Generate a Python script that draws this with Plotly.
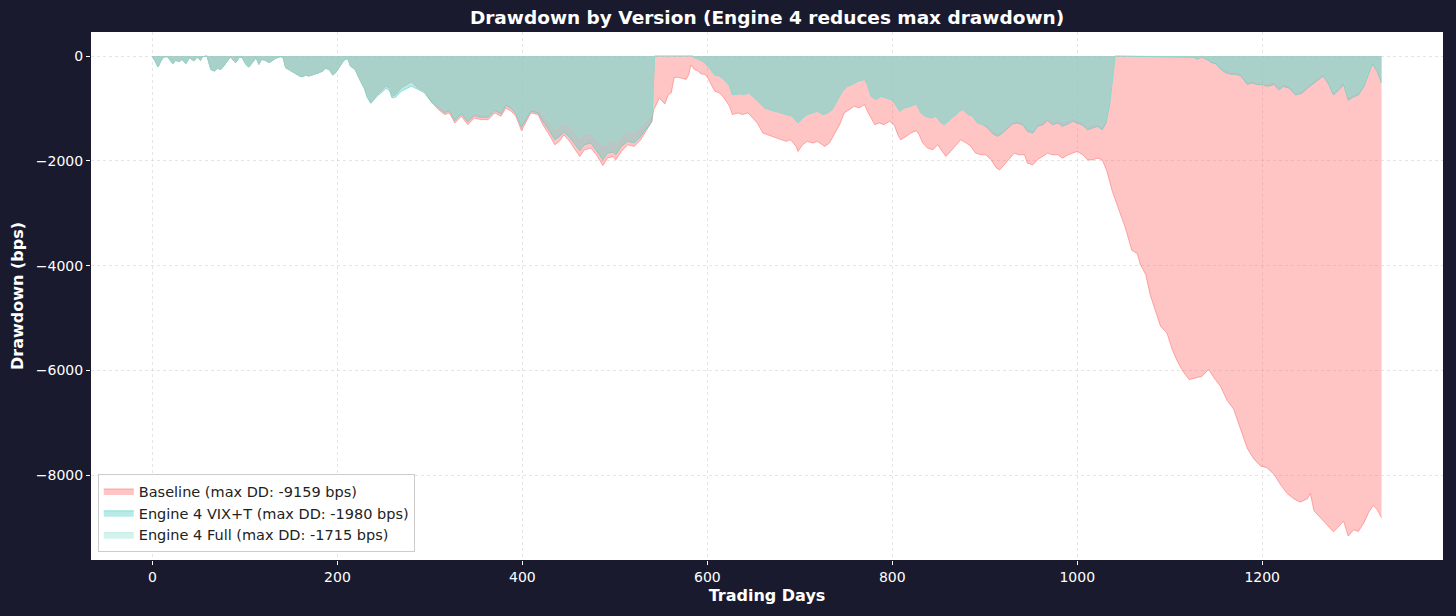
import plotly.graph_objects as go

# ---------------- data ----------------
base_days = [0, 4, 6, 9, 12, 16, 19, 22, 25, 29, 32, 36, 40, 45, 48, 52, 54, 59, 63, 67, 70, 74, 77, 81, 84, 88, 90, 94, 97,
             101, 104, 108, 112, 115, 118, 122, 126, 130, 133, 138, 141, 144, 150, 155, 159, 162, 166, 169, 173, 177, 180,
             184, 187, 191, 195, 198, 204, 207, 211, 214, 219, 222, 225, 229, 232, 236, 240, 243, 249, 252, 256, 259, 263,
             269, 280, 287, 294, 301, 309, 316, 321, 327, 334, 341, 348, 355, 363, 370, 377, 382, 388, 393, 399, 404, 409,
             417, 422, 429, 435, 440, 445, 451, 456, 462, 467, 474, 480, 487, 492, 498, 501, 507, 514, 521, 528, 532, 537,
             540, 542, 544, 548, 552, 554, 558, 561, 564, 568, 573, 577, 580, 582, 586, 590, 593, 597, 600, 604, 608, 613,
             618, 624, 627, 633, 638, 644, 649, 654, 660, 665, 672, 680, 685, 690, 696, 698, 703, 708, 714, 719, 727, 732,
             737, 743, 748, 754, 759, 764, 770, 773, 777, 781, 786, 791, 797, 802, 806, 809, 815, 820, 826, 829, 833, 838,
             844, 849, 854, 858, 863, 869, 874, 880, 885, 890, 896, 901, 907, 912, 916, 921, 927, 932, 937, 943, 946, 952,
             957, 963, 968, 973, 979, 984, 990, 995, 1000, 1006, 1011, 1017, 1022, 1027, 1032, 1038, 1045, 1052, 1059,
             1065, 1068, 1074, 1079, 1085, 1090, 1097, 1103, 1108, 1114, 1121, 1128, 1135, 1142, 1148, 1155, 1162, 1169,
             1177, 1184, 1191, 1198, 1205, 1213, 1220, 1227, 1234, 1241, 1249, 1252, 1256, 1263, 1270, 1277, 1283, 1288,
             1293, 1299, 1304, 1310, 1315, 1320, 1324, 1329]
base_dd = [0, -160, -210, -96, -20, -10, -80, -147, -83, -109, -64, -147, -32, -96, -20, -83, -13, 0, -256, -288, -236, -256,
           -192, -83, -20, -96, -128, -20, -32, -160, -211, -128, -32, -160, -64, -83, -128, -83, -45, -13, -20, -224, -288,
           -339, -383, -396, -364, -383, -364, -339, -320, -288, -236, -256, -364, -320, -173, -83, -45, -192, -256, -383,
           -479, -607, -767, -895, -799, -735, -639, -575, -607, -767, -735, -607, -492, -607, -671, -863, -1022, -1118,
           -1086, -1278, -1150, -1310, -1182, -1214, -1214, -1086, -1150, -990, -1054, -1150, -1425, -1246, -1086, -1118,
           -1310, -1502, -1693, -1629, -1502, -1629, -1757, -1917, -1789, -1757, -1885, -2090, -1949, -1917, -1981, -1821,
           -1693, -1725, -1598, -1489, -1342, -1246, -1022, -959, -799, -863, -914, -735, -703, -415, -403, -428, -447,
           -351, -173, -256, -288, -339, -351, -403, -543, -671, -703, -799, -959, -1118, -1086, -1118, -1086, -1182,
           -1278, -1470, -1502, -1553, -1598, -1629, -1598, -1725, -1821, -1693, -1629, -1661, -1629, -1725, -1661, -1502,
           -1310, -1086, -1022, -959, -990, -927, -1054, -1182, -1310, -1278, -1310, -1246, -1310, -1502, -1598, -1534,
           -1470, -1425, -1502, -1661, -1757, -1789, -1693, -1821, -1917, -1821, -1693, -1598, -1661, -1725, -1853, -1885,
           -1885, -1981, -2128, -2173, -2077, -1949, -1853, -1885, -1885, -2045, -2077, -1981, -1917, -1853, -1885, -1885,
           -1949, -1885, -1853, -1821, -1885, -1981, -1981, -1949, -1981, -2192, -2587, -2917, -3279, -3707, -3773, -3970,
           -4168, -4563, -4892, -5155, -5287, -5616, -5814, -6011, -6176, -6143, -6110, -5978, -6143, -6308, -6571, -6735,
           -7130, -7493, -7690, -7822, -7855, -7987, -8184, -8348, -8447, -8513, -8447, -8348, -8677, -8809, -8941, -9080,
           -8974, -8875, -9159, -9040, -9073, -8908, -8711, -8579, -8645, -8809]

e4_days = [0, 4, 6, 9, 12, 16, 19, 22, 25, 29, 32, 36, 40, 45, 48, 52, 54, 59, 63, 67, 70, 74, 77, 81, 84, 88, 90, 94, 97,
           101, 104, 108, 112, 115, 118, 122, 126, 130, 133, 138, 141, 144, 150, 155, 159, 162, 166, 169, 173, 177, 180,
           184, 187, 191, 195, 198, 204, 207, 211, 214, 219, 222, 225, 229, 232, 236, 240, 243, 249, 252, 256, 259, 263,
           269, 280, 287, 294, 301, 309, 316, 321, 327, 334, 341, 348, 355, 363, 370, 377, 382, 388, 393, 399, 404, 409,
           417, 422, 429, 435, 440, 445, 451, 456, 462, 467, 474, 480, 487, 492, 498, 501, 507, 514, 521, 528, 532, 537,
           540, 543, 584, 586, 591, 597, 602, 608, 613, 618, 624, 627, 635, 640, 645, 651, 656, 662, 667, 674, 681, 687,
           692, 698, 703, 708, 714, 719, 725, 730, 735, 741, 746, 752, 757, 763, 770, 773, 777, 782, 788, 793, 799, 804,
           808, 813, 820, 826, 831, 836, 842, 847, 853, 856, 862, 867, 873, 876, 882, 887, 892, 898, 903, 909, 914, 919,
           925, 930, 935, 941, 946, 952, 957, 963, 968, 973, 979, 984, 990, 995, 1000, 1006, 1011, 1017, 1022, 1027, 1031,
           1035, 1038, 1041, 1126, 1130, 1134, 1138, 1142, 1144, 1150, 1155, 1160, 1166, 1171, 1177, 1184, 1189, 1195,
           1200, 1205, 1213, 1218, 1223, 1229, 1236, 1243, 1249, 1256, 1261, 1266, 1272, 1277, 1283, 1288, 1293, 1299,
           1304, 1310, 1315, 1319, 1324, 1329]
vix_dd = [0, -160, -210, -96, -20, -10, -80, -147, -83, -109, -64, -147, -32, -96, -20, -83, -13, 0, -256, -288, -236, -256,
          -192, -83, -20, -96, -128, -20, -32, -160, -211, -128, -32, -160, -64, -83, -128, -83, -45, -13, -20, -224, -288,
          -339, -383, -396, -364, -383, -364, -339, -320, -288, -236, -256, -364, -320, -173, -83, -45, -192, -256, -383,
          -485, -620, -785, -905, -830, -767, -680, -620, -650, -800, -786, -671, -575, -639, -703, -863, -990, -1086,
          -1042, -1233, -1105, -1259, -1137, -1169, -1169, -1042, -1105, -939, -1003, -1105, -1361, -1195, -1054, -1086,
          -1246, -1425, -1598, -1534, -1451, -1553, -1661, -1808, -1693, -1661, -1808, -1980, -1853, -1834, -1885, -1725,
          -1629, -1661, -1534, -1430, -1330, -1250, 0, 0, -32, -64, -128, -224, -364, -383, -447, -575, -735, -722, -735,
          -703, -799, -895, -990, -1022, -1054, -1086, -1118, -1150, -1278, -1182, -1118, -1086, -1054, -1118, -1086,
          -1022, -831, -671, -575, -543, -479, -447, -543, -767, -831, -767, -799, -831, -940, -1054, -990, -959, -914,
          -1086, -1150, -1182, -1150, -1278, -1310, -1214, -1150, -1054, -1022, -1118, -1150, -1278, -1310, -1374, -1489,
          -1534, -1470, -1374, -1297, -1278, -1310, -1438, -1470, -1342, -1310, -1233, -1310, -1278, -1342, -1297, -1246,
          -1278, -1323, -1406, -1374, -1342, -1406, -1278, -927, -415, 0, -25, -60, -20, -45, -80, -118, -151, -250, -316,
          -349, -349, -382, -546, -514, -546, -546, -580, -546, -645, -580, -613, -744, -711, -613, -514, -448, -382, -547,
          -744, -645, -547, -843, -777, -744, -580, -349, -151, -283, -514]
full_dd = [0, -160, -210, -96, -20, -10, -80, -147, -83, -109, -64, -147, -32, -96, -20, -83, -13, 0, -256, -288, -236, -256,
           -192, -83, -20, -96, -128, -20, -32, -160, -211, -128, -32, -160, -64, -83, -128, -83, -45, -13, -20, -224, -288,
           -339, -383, -396, -364, -383, -364, -339, -320, -288, -236, -256, -364, -320, -173, -83, -45, -192, -256, -383,
           -479, -607, -767, -895, -800, -735, -640, -575, -607, -767, -722, -594, -479, -594, -658, -831, -959, -1022,
           -990, -1182, -1054, -1195, -1086, -1105, -1118, -990, -1054, -895, -959, -1054, -1310, -1150, -1003, -1022,
           -1100, -1245, -1390, -1340, -1270, -1340, -1450, -1565, -1480, -1480, -1570, -1715, -1625, -1600, -1655, -1525,
           -1420, -1450, -1345, -1260, -1190, -1150, 0, 0, -32, -64, -128, -224, -364, -383, -447, -575, -735, -722, -735,
           -703, -799, -895, -990, -1022, -1054, -1086, -1118, -1150, -1278, -1182, -1118, -1086, -1054, -1118, -1086,
           -1022, -831, -671, -575, -543, -479, -447, -543, -767, -831, -767, -799, -831, -940, -1054, -990, -959, -914,
           -1086, -1150, -1182, -1150, -1278, -1310, -1214, -1150, -1054, -1022, -1118, -1150, -1278, -1310, -1297, -1425,
           -1470, -1406, -1310, -1246, -1233, -1259, -1374, -1406, -1278, -1233, -1169, -1233, -1195, -1259, -1214, -1182,
           -1214, -1246, -1323, -1297, -1278, -1342, -1220, -880, -400, 0, -15, -40, -10, -30, -55, -80, -100, -190, -250,
           -285, -285, -320, -480, -450, -480, -480, -515, -480, -580, -515, -550, -680, -645, -550, -450, -385, -320, -480,
           -680, -580, -480, -780, -712, -680, -515, -290, -110, -220, -450]

series_names = ["Baseline (max DD: -9159 bps)",
                "Engine 4 VIX+T (max DD: -1980 bps)",
                "Engine 4 Full (max DD: -1715 bps)"]
x_ticks = [0, 200, 400, 600, 800, 1000, 1200]
y_ticks = [-8000, -6000, -4000, -2000, 0]

# ---------------- figure ----------------
BG = "#1a1a2e"
FONT = "DejaVu Sans"

fig = go.Figure()
fig.add_trace(go.Scatter(x=base_days, y=base_dd, name=series_names[0], mode="lines",
                         fill="tozeroy", fillcolor="rgba(255,107,107,0.4)",
                         line=dict(color="rgba(255,107,107,0.55)", width=1)))
fig.add_trace(go.Scatter(x=e4_days, y=vix_dd, name=series_names[1], mode="lines",
                         fill="tozeroy", fillcolor="rgba(78,205,196,0.4)",
                         line=dict(color="rgba(78,205,196,0.55)", width=1)))
fig.add_trace(go.Scatter(x=e4_days, y=full_dd, name=series_names[2], mode="lines",
                         fill="tozeroy", fillcolor="rgba(149,225,211,0.4)",
                         line=dict(color="rgba(149,225,211,0.55)", width=1)))

fig.update_layout(
    width=1456, height=616,
    paper_bgcolor=BG, plot_bgcolor="white",
    margin=dict(l=91, r=13, t=32, b=56),
    font=dict(family=FONT, color="white", size=14),
    title=dict(text="<b>Drawdown by Version (Engine 4 reduces max drawdown)</b>",
               x=0.5, xanchor="center", xref="paper", y=1 - 18 / 616, yanchor="middle",
               font=dict(family=FONT, size=18.5, color="white")),
    showlegend=True,
    legend=dict(x=0.005, y=0.015, xanchor="left", yanchor="bottom",
                bgcolor="rgba(255,255,255,0.9)", bordercolor="#cccccc", borderwidth=1,
                font=dict(family=FONT, size=14.5, color="#222222"),
                tracegroupgap=0),
)
fig.update_xaxes(range=[-66.5, 1395.5], tickvals=x_ticks, showgrid=True,
                 gridcolor="rgba(190,190,190,0.4)", griddash="dot", gridwidth=1,
                 zeroline=False, ticks="outside", ticklen=4, tickcolor="white",
                 tickfont=dict(color="white", size=14),
                 title=dict(text="<b>Trading Days</b>", font=dict(size=16, color="white"), standoff=6),
                 showline=False)
fig.update_yaxes(range=[-9617, 458], tickvals=y_ticks, showgrid=True,
                 gridcolor="rgba(190,190,190,0.4)", griddash="dot", gridwidth=1,
                 zeroline=False, ticks="outside", ticklen=4, tickcolor="white",
                 tickfont=dict(color="white", size=14),
                 title=dict(text="<b>Drawdown (bps)</b>", font=dict(size=16, color="white"), standoff=8),
                 showline=False)

fig.write_html("out.html", config={"displayModeBar": False},
               post_script="document.body.style.margin='0';document.body.style.background='#1a1a2e';")
